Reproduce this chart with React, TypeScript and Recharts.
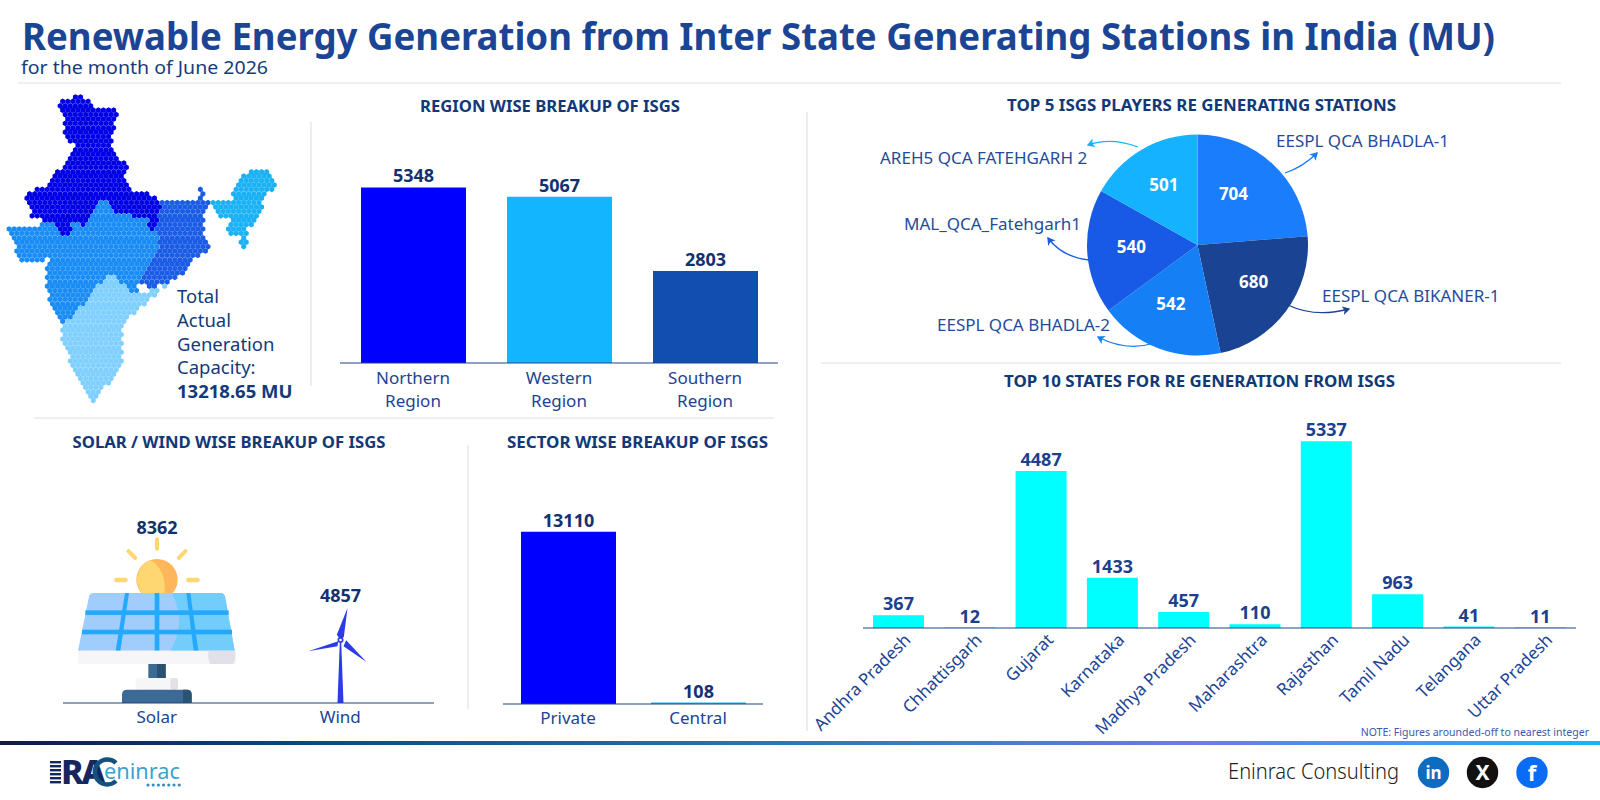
import React from "react";
import { Bar, BarChart, Cell, LabelList, Pie, PieChart, XAxis, YAxis } from "recharts";

const FONT = "'Noto Sans', sans-serif";
const NAVY = "#11316f";
const BLUE = "#1c4494";
const AXIS = "#1c4584";

const regionNames = ["Northern Region", "Western Region", "Southern Region"];
const regionValues = [5348, 5067, 2803];
const regionColors = ["#0000ff", "#14b5ff", "#114eaf"];

const sourceNames = ["Solar", "Wind"];
const sourceValues = [8362, 4857];

const sectorNames = ["Private", "Central"];
const sectorValues = [13110, 108];
const sectorColors = ["#0000ff", "#14b5ff"];

const stationNames = [
  "EESPL QCA BHADLA-1",
  "EESPL QCA BIKANER-1",
  "EESPL QCA BHADLA-2",
  "MAL_QCA_Fatehgarh1",
  "AREH5 QCA FATEHGARH 2",
];
const stationValues = [704, 680, 542, 540, 501];
const stationColors = ["#1a7dfb", "#1b4393", "#1580f5", "#185ae6", "#14b2ff"];

const stateNames = [
  "Andhra Pradesh",
  "Chhattisgarh",
  "Gujarat",
  "Karnataka",
  "Madhya Pradesh",
  "Maharashtra",
  "Rajasthan",
  "Tamil Nadu",
  "Telangana",
  "Uttar Pradesh",
];
const stateValues = [367, 12, 4487, 1433, 457, 110, 5337, 963, 41, 11];

const toRows = (names: string[], values: number[]) =>
  names.map((name, i) => ({ name, value: values[i] }));

// outlines of the hex map, traced at 3x from the reference
const mapRegions: { color: string; outline: number[][] }[] = [
  {
    color: "#0000e6",
    outline: [[175,50],[230,30],[270,50],[280,75],[320,65],[370,80],[345,105],[340,155],[335,190],[345,210],[380,240],[375,290],[395,315],[470,330],[480,370],[465,440],[450,430],[440,395],[350,390],[330,350],[310,340],[270,385],[260,425],[220,415],[205,450],[185,445],[165,415],[100,400],[70,345],[90,315],[145,305],[170,255],[205,230],[220,180],[195,155],[190,105],[195,90],[175,65]],
  },
  {
    color: "#1a8cf5",
    outline: [[20,430],[160,415],[185,450],[205,450],[220,415],[260,425],[270,385],[310,340],[330,350],[350,390],[440,395],[450,430],[470,440],[480,480],[430,560],[420,590],[410,630],[385,615],[340,570],[310,580],[270,640],[190,720],[150,650],[135,580],[145,510],[130,525],[65,525],[40,480],[30,435]],
  },
  {
    color: "#1a5ce6",
    outline: [[480,340],[530,350],[590,350],[600,295],[615,345],[635,345],[610,375],[610,440],[635,490],[600,510],[575,535],[565,555],[520,580],[500,600],[440,610],[420,590],[430,560],[480,480],[465,440]],
  },
  {
    color: "#1ab2f5",
    outline: [[635,345],[695,340],[695,320],[730,270],[770,250],[810,260],[835,300],[790,340],[780,390],[745,430],[735,500],[715,480],[720,440],[690,455],[675,435],[700,410],[655,395]],
  },
  {
    color: "#80d0ff",
    outline: [[190,720],[270,640],[310,580],[340,570],[385,615],[410,630],[500,600],[440,650],[385,700],[365,730],[370,780],[365,840],[285,950],[272,950],[225,860],[180,760]],
  },
];

const inside = (x: number, y: number, poly: number[][]) => {
  let hit = false;
  for (let i = 0, j = poly.length - 1; i < poly.length; j = i++) {
    const [xi, yi] = poly[i];
    const [xj, yj] = poly[j];
    if (yi > y !== yj > y && x < ((xj - xi) * (y - yi)) / (yj - yi) + xi) hit = !hit;
  }
  return hit;
};

const hexPath = (cx: number, cy: number, r: number) => {
  const w = r * 0.866;
  return `M${cx},${cy - r}L${cx + w},${cy - r / 2}L${cx + w},${cy + r / 2}L${cx},${cy + r}L${cx - w},${cy + r / 2}L${cx - w},${cy - r / 2}Z`;
};

const HexMap = () => {
  const paths = mapRegions.map(() => "");
  for (let row = 0; row < 72; row++) {
    for (let col = 0; col < 58; col++) {
      const zx = 12 + col * 15.3 + (row % 2 ? 7.65 : 0);
      const zy = 36 + row * 13.2;
      const idx = mapRegions.findIndex((r) => inside(zx, zy, r.outline));
      if (idx >= 0) paths[idx] += hexPath(zx / 3, 85 + zy / 3, 2.85);
    }
  }
  return (
    <g>
      {paths.map((d, i) => (
        <path key={i} d={d} fill={mapRegions[i].color} />
      ))}
    </g>
  );
};

const RegionTick = ({ x, y, payload }: any) => {
  const words = String(payload.value).split(" ");
  return (
    <text x={x} y={y} textAnchor="middle" fontFamily={FONT} fontSize={17} fill={BLUE}>
      {words.map((w, i) => (
        <tspan key={w} x={x} dy={i === 0 ? 13 : 23}>
          {w}
        </tspan>
      ))}
    </text>
  );
};

const StateTick = ({ x, y, payload }: any) => (
  <text
    x={x + 13}
    y={y + 5}
    transform={`rotate(-45 ${x + 13} ${y + 5})`}
    textAnchor="end"
    fontFamily={FONT}
    fontSize={17}
    fill={BLUE}
  >
    {payload.value}
  </text>
);

const SolarIcon = () => (
  <g>
    <g fill="#fed672">
      <rect x={-6} y={-497} width={12} height={40} rx={5} />
      <rect x={-6} y={-497} width={12} height={40} rx={5} transform="rotate(45 0 -370)" />
      <rect x={-6} y={-497} width={12} height={40} rx={5} transform="rotate(-45 0 -370)" />
      <rect x={88} y={-376} width={40} height={14} rx={6} />
      <rect x={-128} y={-376} width={40} height={14} rx={6} />
    </g>
    <circle cx={0} cy={-370} r={62} fill="#fdb75a" />
    <path d="M-20,-428 A62,62 0 0 0 -20,-312 L20,-312 C30,-350 20,-410 -20,-428 Z" fill="#fed672" />
    <path d="M-190,-330 L190,-330 Q203,-330 205,-315 L233,-157 L-237,-157 L-205,-315 Q-203,-330 -190,-330 Z" fill="#a0cdfb" />
    <path d="M45,-330 L190,-330 Q203,-330 205,-315 L233,-157 L40,-157 Q90,-240 45,-330 Z" fill="#72cdfb" />
    <g fill="#25a9ff">
      <rect x={-215} y={-278} width={430} height={14} />
      <rect x={-225} y={-220} width={450} height={14} />
      <polygon points="-96,-330 -84,-330 -110,-157 -124,-157" />
      <rect x={-7} y={-330} width={14} height={173} />
      <polygon points="88,-330 100,-330 124,-157 110,-157" />
    </g>
    <rect x={-237} y={-157} width={475} height={40} rx={10} fill="#f6f5f8" />
    <path d="M155,-157 L234,-157 Q238,-130 228,-117 L160,-117 Q150,-137 155,-157 Z" fill="#e2e1ea" />
    <rect x={-26} y={-117} width={52} height={42} fill="#3b6a94" />
    <rect x={0} y={-117} width={26} height={42} fill="#2b5070" />
    <rect x={-64} y={-75} width={127} height={35} rx={10} fill="#f6f5f8" />
    <rect x={40} y={-75} width={23} height={35} rx={8} fill="#e2e1ea" />
    <path d="M-105,0 L-105,-25 Q-105,-40 -90,-40 L90,-40 Q104,-40 104,-25 L104,0 Z" fill="#3d6a94" />
    <path d="M78,0 L78,-40 L90,-40 Q104,-40 104,-25 L104,0 Z" fill="#2a5272" />
  </g>
);

const WindIcon = () => (
  <g fill="#2b3ce6">
    <polygon points="-9,0 -2,-185 2,-185 9,0" />
    <polygon points="-11,-205 21,-285 10,-198 0,-190" />
    <polygon points="-97,-155 -7,-185 -9,-170" />
    <polygon points="78,-123 17,-188 9,-170" />
    <circle cx={0} cy={-189} r={9} />
    <circle cx={0} cy={-189} r={4} fill="#fff" />
  </g>
);

const SourceShape = ({ x, y, width, height, index }: any) => (
  <g transform={`translate(${x + width / 2},${y + height}) scale(${1 / 3})`}>
    {index === 0 ? <SolarIcon /> : <WindIcon />}
  </g>
);

// the 704 label sits left of the slice's centre line in the reference
const sliceLabelShift = [-9, 3, -3, 0, 0];

const renderSliceLabel = ({ cx, cy, midAngle, outerRadius, value, index }: any) => {
  const r = outerRadius * 0.6;
  const a = (-midAngle * Math.PI) / 180;
  return (
    <text
      x={cx + r * Math.cos(a) + sliceLabelShift[index]}
      y={cy + r * Math.sin(a) - 3}
      textAnchor="middle"
      dominantBaseline="central"
      fontFamily={FONT}
      fontSize={17}
      fontWeight={700}
      fill="#fff"
    >
      {value}
    </text>
  );
};

const valueLabel = { fill: NAVY, fontSize: 18, fontWeight: 700, fontFamily: FONT };
const stateLabel = { ...valueLabel, fill: "#1c3f8e" };
const plainTick = { fill: BLUE, fontSize: 17, fontFamily: FONT };

const place = (left: number, top: number): React.CSSProperties => ({ position: "absolute", left, top });

const arrows = [
  { d: "M1285,173 Q1303,167 1317,153", color: "#1a7dfb" },
  { d: "M1288,305 Q1315,318 1349,309", color: "#1b4393" },
  { d: "M1154,343 Q1127,352 1098,337", color: "#1580f5" },
  { d: "M1089,260 Q1062,257 1048,238", color: "#185ae6" },
  { d: "M1138,147 Q1111,137 1088,145", color: "#14b2ff" },
];

const stationLabels = [
  { x: 1276, y: 147 },
  { x: 1322, y: 302 },
  { x: 937, y: 331 },
  { x: 904, y: 230 },
  { x: 880, y: 164 },
];

const sectionTitles = [
  { text: "REGION WISE BREAKUP OF ISGS", x: 420, y: 112, w: 260 },
  { text: "SOLAR / WIND WISE BREAKUP OF ISGS", x: 72.5, y: 448, w: 313 },
  { text: "SECTOR WISE BREAKUP OF ISGS", x: 507, y: 448, w: 261 },
  { text: "TOP 5 ISGS PLAYERS RE GENERATING STATIONS", x: 1007, y: 111, w: 389 },
  { text: "TOP 10 STATES FOR RE GENERATION FROM ISGS", x: 1004, y: 387, w: 391 },
];

const dividers = [
  [18, 83, 1561, 83],
  [311, 122, 311, 386],
  [34, 418, 774, 418],
  [468, 445, 468, 709],
  [807, 112, 807, 731],
  [821, 363, 1561, 363],
];

const Backdrop = () => (
  <svg width={1600} height={800} style={place(0, 0)}>
    <defs>
      <linearGradient id="footerLine" x1="0" x2="1" y1="0" y2="0">
        <stop offset="0" stopColor="#101a45" />
        <stop offset="0.2" stopColor="#0e4a80" />
        <stop offset="0.5" stopColor="#2a7ab8" />
        <stop offset="0.75" stopColor="#6f78f0" />
        <stop offset="1" stopColor="#14b5ff" />
      </linearGradient>
      {arrows.map((a, i) => (
        <marker key={i} id={`tip${i}`} markerWidth="8" markerHeight="8" refX="5" refY="3.5" orient="auto">
          <path d="M0,0 L6,3.5 L0,7 L1.5,3.5 Z" fill={a.color} />
        </marker>
      ))}
    </defs>
    <g fontFamily={FONT}>
      <text x={22} y={50} fontSize={37} fontWeight={700} fill={BLUE} textLength={1473} lengthAdjust="spacingAndGlyphs">
        Renewable Energy Generation from Inter State Generating Stations in India (MU)
      </text>
      <text x={21} y={74} fontSize={17.5} fill="#153c7a" textLength={247} lengthAdjust="spacingAndGlyphs">
        for the month of June 2026
      </text>
      {dividers.map((l, i) => (
        <line key={i} x1={l[0]} y1={l[1]} x2={l[2]} y2={l[3]} stroke="#dfe2e8" strokeWidth={1.2} />
      ))}
      {sectionTitles.map((t) => (
        <text key={t.text} x={t.x} y={t.y} fontSize={16} fontWeight={700} fill="#123878" textLength={t.w} lengthAdjust="spacingAndGlyphs">
          {t.text}
        </text>
      ))}
      <HexMap />
      <g fontSize={18.5} fill="#133a78">
        <text x={177} y={303}>Total</text>
        <text x={177} y={327}>Actual</text>
        <text x={177} y={351}>Generation</text>
        <text x={177} y={374}>Capacity:</text>
        <text x={177} y={398} fontWeight={700}>13218.65 MU</text>
      </g>
      {stationNames.map((name, i) => (
        <text key={name} x={stationLabels[i].x} y={stationLabels[i].y} fontSize={17} fill="#1f4c9a">
          {name}
        </text>
      ))}
      {arrows.map((a, i) => (
        <path key={i} d={a.d} fill="none" stroke={a.color} strokeWidth={1.3} markerEnd={`url(#tip${i})`} />
      ))}
      <text x={1589} y={736} textAnchor="end" fontSize={10.5} fill="#3b5aa8">
        NOTE: Figures arounded-off to nearest integer
      </text>
      <rect x={0} y={741} width={1600} height={4} fill="url(#footerLine)" />
      <g fill="#16265f">
        {[0, 1, 2, 3, 4, 5].map((n) => (
          <rect key={n} x={50} y={761 + n * 4} width={11} height={2.4} />
        ))}
        <text x={61} y={784} fontSize={34} fontWeight={800} letterSpacing={-2}>RA</text>
      </g>
      <path d="M116,763 A12.5,12.5 0 1 0 116,781" fill="none" stroke="#15507e" strokeWidth={4.5} />
      <text x={104} y={779} fontSize={21} fill="#3ba3cf" textLength={76} lengthAdjust="spacingAndGlyphs">eninrac</text>
      {[0, 1, 2, 3, 4, 5, 6].map((n) => (
        <circle key={n} cx={148 + n * 5.2} cy={785} r={1.6} fill="#3b8fc0" />
      ))}
      <text x={1228} y={779} fontSize={21.5} fontWeight={300} fill="#222" textLength={171} lengthAdjust="spacingAndGlyphs">Eninrac Consulting</text>
      <circle cx={1433.5} cy={772.5} r={15.7} fill="#0e6cc0" />
      <text x={1433.5} y={779} textAnchor="middle" fontSize={17} fontWeight={700} fill="#fff">in</text>
      <circle cx={1482.5} cy={772.5} r={15.7} fill="#111" />
      <text x={1482.5} y={780} textAnchor="middle" fontSize={21} fontWeight={700} fill="#fff">X</text>
      <circle cx={1532} cy={772.5} r={15.7} fill="#0a6cf5" />
      <text x={1532} y={781} textAnchor="middle" fontSize={22} fontWeight={700} fill="#fff">f</text>
    </g>
  </svg>
);

export default function App() {
  return (
    <div style={{ position: "absolute", left: 0, top: 0, width: 1600, height: 800, overflow: "hidden", background: "#fff", fontFamily: FONT }}>
      <Backdrop />

      <div style={place(340, 141)}>
        <BarChart width={438} height={272} data={toRows(regionNames, regionValues)} margin={{ top: 25, right: 0, bottom: 0, left: 0 }}>
          <XAxis dataKey="name" height={50} interval={0} tickLine={false} stroke={AXIS} tick={<RegionTick />} />
          <YAxis hide domain={[0, 6000]} />
          <Bar dataKey="value" barSize={105} isAnimationActive={false}>
            {regionColors.map((c) => (
              <Cell key={c} fill={c} />
            ))}
            <LabelList dataKey="value" position="top" {...valueLabel} />
          </Bar>
        </BarChart>
      </div>

      <div style={place(63, 501)}>
        <BarChart width={371} height={234} data={toRows(sourceNames, sourceValues)} margin={{ top: 25, right: 0, bottom: 0, left: 0 }}>
          <XAxis dataKey="name" height={32} interval={0} tickLine={false} stroke={AXIS} padding={{ left: 2, right: 2 }} tick={plainTick} />
          <YAxis hide domain={[0, 9000]} />
          <Bar dataKey="value" barSize={60} fill="transparent" isAnimationActive={false} shape={<SourceShape />}>
            <LabelList dataKey="value" position="top" {...valueLabel} />
          </Bar>
        </BarChart>
      </div>

      <div style={place(503, 495)}>
        <BarChart width={260} height={241} data={toRows(sectorNames, sectorValues)} margin={{ top: 25, right: 0, bottom: 0, left: 0 }}>
          <XAxis dataKey="name" height={32} interval={0} tickLine={false} stroke={AXIS} tick={plainTick} />
          <YAxis hide domain={[0, 14000]} />
          <Bar dataKey="value" barSize={95} isAnimationActive={false}>
            {sectorColors.map((c) => (
              <Cell key={c} fill={c} />
            ))}
            <LabelList dataKey="value" position="top" {...valueLabel} />
          </Bar>
        </BarChart>
      </div>

      <div style={place(1066, 114)}>
        <PieChart width={263} height={263} margin={{ top: 0, right: 0, bottom: 0, left: 0 }}>
          <Pie
            data={toRows(stationNames, stationValues)}
            dataKey="value"
            nameKey="name"
            cx={131.5}
            cy={131}
            outerRadius={110.5}
            startAngle={90}
            endAngle={-270}
            stroke="none"
            labelLine={false}
            label={renderSliceLabel}
            isAnimationActive={false}
          >
            {stationColors.map((c) => (
              <Cell key={c} fill={c} />
            ))}
          </Pie>
        </PieChart>
      </div>

      <div style={place(783, 393)}>
        <BarChart width={793} height={355} data={toRows(stateNames, stateValues)} margin={{ top: 25, right: 0, bottom: 0, left: 80 }}>
          <XAxis dataKey="name" height={120} interval={0} tickLine={false} stroke={AXIS} tick={<StateTick />} />
          <YAxis hide domain={[0, 6000]} />
          <Bar dataKey="value" barSize={51} fill="#00ffff" isAnimationActive={false}>
            <LabelList dataKey="value" position="top" {...stateLabel} />
          </Bar>
        </BarChart>
      </div>
    </div>
  );
}
